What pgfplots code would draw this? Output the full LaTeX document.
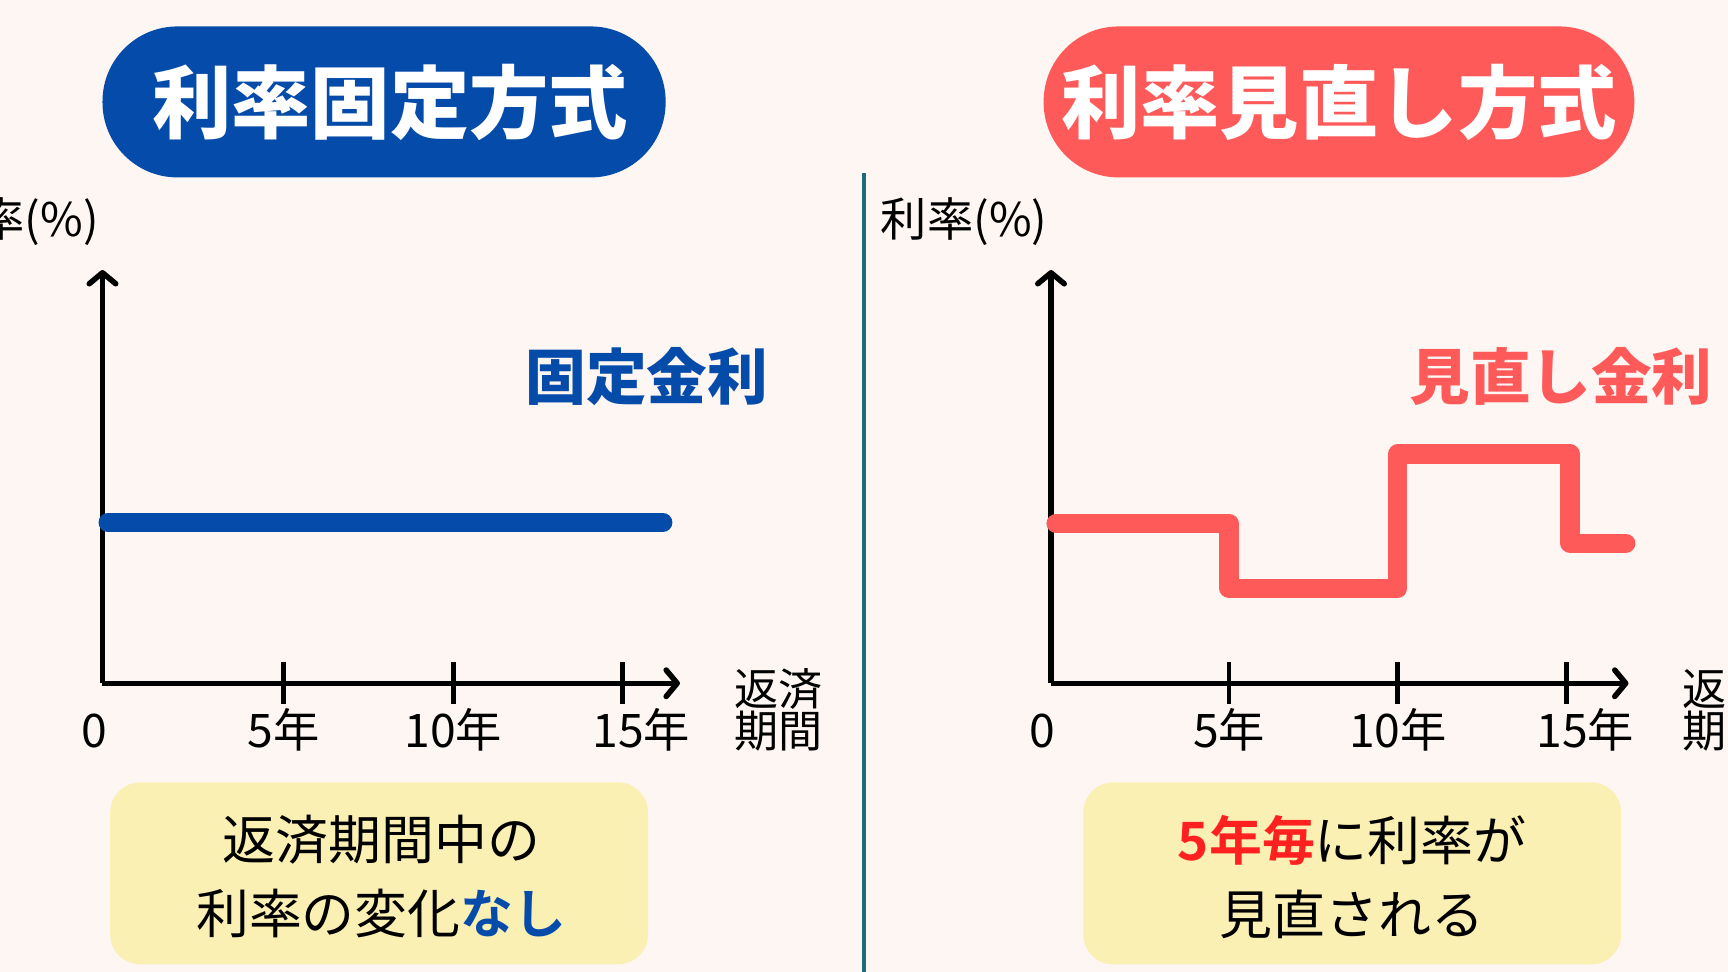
\documentclass[border=0pt]{standalone}
\usepackage{fontspec}
\setmainfont{Noto Sans CJK JP}[BoldFont={Noto Sans CJK JP Bold}]
\newfontfamily\blackfont{Noto Sans CJK JP Black}
\usepackage{pgfplots}
\pgfplotsset{compat=1.18}
\usetikzlibrary{arrows.meta}
\definecolor{bg}{HTML}{FDF6F2}
\definecolor{navy}{HTML}{054BAA}
\definecolor{coral}{HTML}{FF5A5A}
\definecolor{hotred}{HTML}{FF2020}
\definecolor{pale}{HTML}{FBF0B4}
\definecolor{tealline}{HTML}{1C6C78}
\pgfplotsset{
  ratestyle/.style={
    anchor=south west, scale only axis,
    width=262pt, height=187.5pt,
    ymin=0, ymax=10,
    axis lines=left, clip=false,
    axis line style={line width=2.5pt, black},
    x axis line style={-{Straight Barb[length=5pt,width=12pt,line cap=round,line join=round]}},
    y axis line style={-{Straight Barb[length=5pt,width=12pt,line cap=round,line join=round]}},
    xtick={5,10,15}, xticklabels={5年,10年,\hspace*{17pt}15年},
    ytick=\empty,
    xtick align=center, major tick length=19pt,
    tick style={line width=2.2pt, black},
    /pgf/number format/assume math mode=true,
    xticklabel style={font=\fontsize{21}{21}\selectfont, anchor=north, inner sep=0pt, yshift=-1.5pt},
    every axis y label/.style={at={(rel axis cs:0,1)}, anchor=east, yshift=22pt, xshift=-1.5pt, inner sep=0pt, font=\fontsize{21}{21}\selectfont},
    ylabel={利率(\%)},
    every axis x label/.style={at={(rel axis cs:1,0)}, anchor=west, xshift=24.5pt, yshift=-12pt, align=left, inner sep=0pt, font=\fontsize{20}{19}\selectfont},
    xlabel={返済\\期間},
  }
}
\begin{document}
\begin{tikzpicture}[x=0.5pt,y=0.5pt]
\useasboundingbox (0,0) rectangle (1568,882);
\clip (0,0) rectangle (1568,882);
\fill[bg] (0,0) rectangle (1568,882);
\draw[tealline, line width=1.5pt] (784,0) -- (784,725);
% title pills
\fill[navy, rounded corners=34pt] (93,721) rectangle (604,858);
\node[text=white, font=\blackfont\fontsize{36}{36}\selectfont, inner sep=0pt] at (354,789) {利率固定方式};
\fill[coral, rounded corners=34pt] (947,721) rectangle (1483,858);
\node[text=white, font=\blackfont\fontsize{36}{36}\selectfont, inner sep=0pt] at (1215,789) {利率見直し方式};
% left chart
\begin{axis}[ratestyle, at={(46.5pt,131pt)}, xmin=-0.36, xmax=16.7,
  extra x ticks={-0.36}, extra x tick labels={0},
  extra x tick style={major tick length=0pt, xticklabel style={xshift=-3.5pt, yshift=-12pt}}]
\addplot[navy, line width=8.5pt, line cap=round, no markers] coordinates {(-0.2,3.89) (16.2,3.89)};
\end{axis}
% right chart
\begin{axis}[ratestyle, at={(476.85pt,131pt)}, xmin=-0.27, xmax=16.83,
  extra x ticks={-0.27}, extra x tick labels={0},
  extra x tick style={major tick length=0pt, xticklabel style={xshift=-4pt, yshift=-12pt}}]
\addplot[coral, line width=8.75pt, line cap=round, line join=round, const plot, no markers]
  coordinates {(-0.12,3.87) (5,2.3) (10,5.55) (15.1,3.39) (16.75,3.39)};
\end{axis}
% series labels
\node[text=navy, font=\blackfont\fontsize{27.5}{27.5}\selectfont, inner sep=0pt] at (587,540) {固定金利};
\node[text=coral, font=\blackfont\fontsize{27.5}{27.5}\selectfont, inner sep=0pt] at (1416.5,540) {見直し金利};
% bottom boxes
\fill[pale, rounded corners=13.5pt] (100,7) rectangle (588,172);
\node[font=\fontsize{24}{33.5}\selectfont, align=center, inner sep=0pt] at (346,86.5) {返済期間中の\\利率の変化{\bfseries\color{navy}なし}};
\fill[pale, rounded corners=13.5pt] (983,7) rectangle (1471,172);
\node[font=\fontsize{24}{33.5}\selectfont, align=center, inner sep=0pt] at (1227,86.5) {{\bfseries\color{hotred}5年毎}に利率が\\見直される};
\end{tikzpicture}
\end{document}
